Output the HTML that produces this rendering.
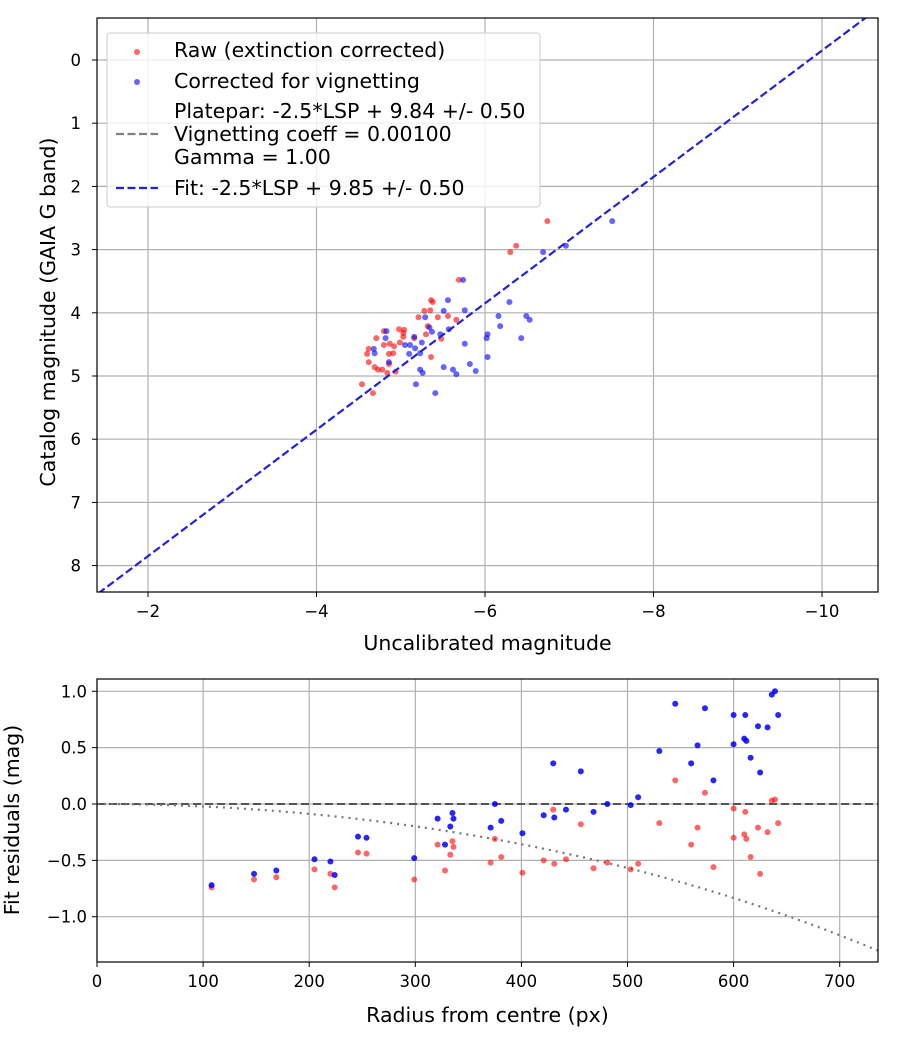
<!DOCTYPE html>
<html><head><meta charset="utf-8"><style>
body{margin:0;background:#fff;}
svg text{font-family:"DejaVu Sans","Liberation Sans",sans-serif;fill:#000;}
</style></head><body>
<svg id="chart" width="900" height="1050" viewBox="0 0 900 1050" xmlns="http://www.w3.org/2000/svg">
<defs>
<clipPath id="ct"><rect x="97" y="18" width="781" height="574"/></clipPath>
<clipPath id="cb"><rect x="97" y="679" width="781" height="283"/></clipPath>
</defs>
<rect width="900" height="1050" fill="#fff"/>
<g id="topPlot"></g>
<g id="botPlot"></g>
</svg>
<script>
// ---- top plot data ----
const topXTicks = [-2, -4, -6, -8, -10];
const topYTicks = [0, 1, 2, 3, 4, 5, 6, 7, 8];
const fitIntercept = 9.85;
const rawLSP = [-6.74,-6.37,-6.30,-5.69,-5.36,-5.38,-5.28,-5.35,-5.21,-5.44,-5.56,-5.66,-5.32,-4.98,-5.04,-4.80,-5.03,-5.30,-5.03,-4.71,-5.16,-5.48,-4.80,-4.87,-4.92,-4.99,-4.91,-4.86,-4.60,-4.62,-5.36,-4.62,-4.86,-4.69,-4.73,-4.78,-4.84,-4.94,-4.54,-4.67];
const rawCat = [2.55,2.94,3.04,3.48,3.80,3.83,3.97,3.96,4.07,4.07,4.05,4.11,4.21,4.26,4.27,4.29,4.32,4.34,4.38,4.40,4.40,4.41,4.51,4.49,4.53,4.47,4.64,4.65,4.65,4.57,4.70,4.78,4.81,4.86,4.90,4.90,4.95,4.93,5.13,5.27];
const corLSP = [-7.51,-6.96,-6.69,-5.74,-5.56,-5.51,-5.76,-5.29,-6.29,-6.16,-6.49,-6.53,-6.18,-5.34,-5.57,-4.83,-5.37,-6.03,-5.47,-6.02,-6.43,-4.82,-5.16,-5.76,-5.05,-5.11,-5.17,-5.25,-4.68,-4.69,-5.10,-5.23,-6.03,-4.86,-5.82,-5.51,-5.23,-5.26,-5.62,-5.66,-5.89,-5.18,-5.41];
const corCat = [2.55,2.94,3.04,3.48,3.80,3.97,3.96,4.07,3.83,4.05,4.05,4.11,4.21,4.23,4.26,4.29,4.30,4.34,4.34,4.40,4.40,4.40,4.38,4.49,4.51,4.51,4.56,4.47,4.57,4.64,4.65,4.64,4.70,4.78,4.81,4.86,4.90,4.95,4.90,4.97,4.92,5.13,5.27];
// ---- bottom plot data ----
const botXTicks = [0,100,200,300,400,500,600,700];
const botYTicks = [1.0,0.5,0.0,-0.5,-1.0];
const botYLabels = ["1.0","0.5","0.0","\u22120.5","\u22121.0"];
const radius = [108,148,169,205,220,224,246,254,299,321,328,333,335,336,371,375,381,401,421,431,430,442,456,468,481,503,510,530,545,560,566,573,581,600,600,611,610,612,616,623,625,632,636,639,642];
const resRaw = [-0.74,-0.67,-0.65,-0.58,-0.62,-0.74,-0.43,-0.44,-0.67,-0.36,-0.59,-0.45,-0.33,-0.38,-0.52,-0.31,-0.47,-0.61,-0.50,-0.53,-0.05,-0.49,-0.18,-0.57,-0.52,-0.58,-0.53,-0.17,0.21,-0.36,-0.21,0.10,-0.56,-0.04,-0.30,-0.07,-0.27,-0.31,-0.47,-0.21,-0.62,-0.25,0.03,0.04,-0.17];
const resCor = [-0.72,-0.62,-0.59,-0.49,-0.51,-0.63,-0.29,-0.30,-0.48,-0.13,-0.36,-0.20,-0.08,-0.13,-0.21,0.00,-0.15,-0.26,-0.10,-0.12,0.36,-0.05,0.29,-0.07,0.00,-0.01,0.06,0.47,0.89,0.36,0.52,0.85,0.21,0.79,0.53,0.79,0.58,0.56,0.41,0.69,0.28,0.68,0.97,1.00,0.79];
const vignCoeff = 0.001;

const NS="http://www.w3.org/2000/svg";
function mk(parent,tag,attrs,txt){const e=document.createElementNS(NS,tag);for(const k in attrs)e.setAttribute(k,attrs[k]);if(txt!==undefined)e.textContent=txt;parent.appendChild(e);return e;}
const fmt=v=>(v<0?"\u2212":"")+Math.abs(v);
const TF=20.5;

// top axes
const T={l:97,r:878,t:18,b:592};
const tx=v=>148+(-v-2)*84.25;
const ty=m=>60+m*63.2;
const topG=document.getElementById('topPlot');
topXTicks.forEach(v=>{
  mk(topG,'line',{x1:tx(v),x2:tx(v),y1:T.t,y2:T.b,stroke:'#b0b0b0','stroke-width':1.2});
  mk(topG,'line',{x1:tx(v),x2:tx(v),y1:T.b,y2:T.b+5,stroke:'#000','stroke-width':1});
  const t=mk(topG,'text',{x:tx(v),y:T.b+25,'font-size':16.5,'text-anchor':'middle'},fmt(v));
  
  
});
topYTicks.forEach(v=>{
  mk(topG,'line',{x1:T.l,x2:T.r,y1:ty(v),y2:ty(v),stroke:'#b0b0b0','stroke-width':1.2});
  mk(topG,'line',{x1:T.l-5,x2:T.l,y1:ty(v),y2:ty(v),stroke:'#000','stroke-width':1});
  const t=mk(topG,'text',{x:T.l-16,y:ty(v)+6,'font-size':16.5,'text-anchor':'end'},String(v));
  
  
});
const pts=mk(topG,'g',{'clip-path':'url(#ct)'});
rawLSP.forEach((v,i)=>{const c=mk(pts,'circle',{cx:tx(v),cy:ty(rawCat[i]),r:3,fill:'#ff0000','fill-opacity':0.6});
  
  });
corLSP.forEach((v,i)=>{const c=mk(pts,'circle',{cx:tx(v),cy:ty(corCat[i]),r:3,fill:'#0000ff','fill-opacity':0.6});
  
  });
const x0=-1.3,x1=-10.8;
const fl=mk(pts,'line',{x1:tx(x0),y1:ty(x0+fitIntercept),x2:tx(x1),y2:ty(x1+fitIntercept),stroke:'#2222dd','stroke-width':2.2,'stroke-dasharray':'8,3.5'});


mk(topG,'rect',{x:T.l,y:T.t,width:T.r-T.l,height:T.b-T.t,fill:'none',stroke:'#000','stroke-width':1.2});
const xl=mk(topG,'text',{x:(T.l+T.r)/2,y:650,'font-size':TF,'text-anchor':'middle'},'Uncalibrated magnitude');


const yl=mk(topG,'text',{x:0,y:0,'font-size':TF,'text-anchor':'middle',transform:'translate(55,312) rotate(-90)'},'Catalog magnitude (GAIA G band)');


// legend
const lg=mk(topG,'g',{});


mk(lg,'rect',{x:107,y:33,width:433,height:174,rx:3,fill:'#fff','fill-opacity':0.8,stroke:'#ccc'});
mk(lg,'circle',{cx:137,cy:52,r:3,fill:'#ff0000','fill-opacity':0.6});
mk(lg,'text',{x:174,y:57,'font-size':TF},'Raw (extinction corrected)');
mk(lg,'circle',{cx:137,cy:82,r:3,fill:'#0000ff','fill-opacity':0.6});
mk(lg,'text',{x:174,y:88,'font-size':TF},'Corrected for vignetting');
mk(lg,'text',{x:174,y:118,'font-size':TF},'Platepar: -2.5*LSP + 9.84 +/- 0.50');
mk(lg,'line',{x1:116,x2:158,y1:134,y2:134,stroke:'#808080','stroke-width':2.2,'stroke-dasharray':'8,3.5'});
mk(lg,'text',{x:174,y:141,'font-size':TF},'Vignetting coeff = 0.00100');
mk(lg,'text',{x:174,y:164,'font-size':TF},'Gamma = 1.00');
mk(lg,'line',{x1:116,x2:158,y1:188,y2:188,stroke:'#2222ee','stroke-width':2.2,'stroke-dasharray':'8,3.5'});
mk(lg,'text',{x:174,y:195,'font-size':TF},'Fit: -2.5*LSP + 9.85 +/- 0.50');

// bottom axes
const B={l:97,r:878,t:679,b:962};
const bx=r=>97+r*1.061;
const by=v=>804-v*112.7;
const botG=document.getElementById('botPlot');
botXTicks.forEach(v=>{
  mk(botG,'line',{x1:bx(v),x2:bx(v),y1:B.t,y2:B.b,stroke:'#b0b0b0','stroke-width':1.2});
  mk(botG,'line',{x1:bx(v),x2:bx(v),y1:B.b,y2:B.b+5,stroke:'#000','stroke-width':1});
  const t=mk(botG,'text',{x:bx(v),y:B.b+25,'font-size':16.5,'text-anchor':'middle'},String(v));
  
  
});
botYTicks.forEach((v,i)=>{
  mk(botG,'line',{x1:B.l,x2:B.r,y1:by(v),y2:by(v),stroke:'#b0b0b0','stroke-width':1.2});
  mk(botG,'line',{x1:B.l-5,x2:B.l,y1:by(v),y2:by(v),stroke:'#000','stroke-width':1});
  const t=mk(botG,'text',{x:B.l-10,y:by(v)+6,'font-size':16.5,'text-anchor':'end'},botYLabels[i]);
  
  
});
const bp=mk(botG,'g',{'clip-path':'url(#cb)'});
const zl=mk(bp,'line',{x1:B.l,x2:B.r,y1:by(0),y2:by(0),stroke:'#555','stroke-width':2,'stroke-dasharray':'8,4'});


let d='';for(let r=0;r<=740;r+=5){const y=10*Math.log10(Math.cos(r*vignCoeff));d+=(r?'L':'M')+bx(r).toFixed(1)+','+by(y).toFixed(1);}
const vc=mk(bp,'path',{d:d,fill:'none',stroke:'#777','stroke-width':2.2,'stroke-dasharray':'2,5'});


radius.forEach((r,i)=>{const c=mk(bp,'circle',{cx:bx(r),cy:by(resRaw[i]),r:3,fill:'#ff0000','fill-opacity':0.6});
  
  });
radius.forEach((r,i)=>{const c=mk(bp,'circle',{cx:bx(r),cy:by(resCor[i]),r:3,fill:'#0000ff','fill-opacity':0.85});
  
  });
mk(botG,'rect',{x:B.l,y:B.t,width:B.r-B.l,height:B.b-B.t,fill:'none',stroke:'#000','stroke-width':1.2});
const bxl=mk(botG,'text',{x:(B.l+B.r)/2,y:1022,'font-size':TF,'text-anchor':'middle'},'Radius from centre (px)');


const byl=mk(botG,'text',{x:0,y:0,'font-size':TF,'text-anchor':'middle',transform:'translate(19,820) rotate(-90)'},'Fit residuals (mag)');


</script>
</body></html>
